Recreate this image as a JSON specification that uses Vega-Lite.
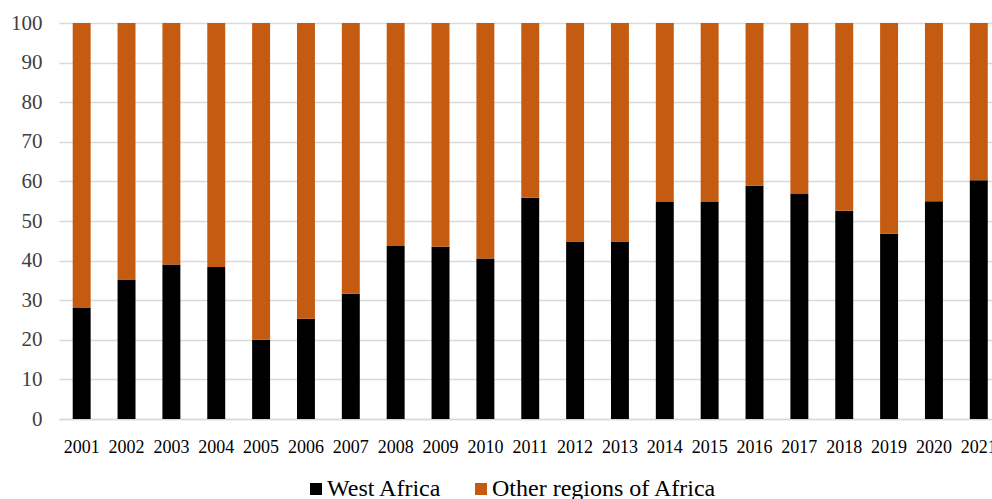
{
  "$schema": "https://vega.github.io/schema/vega-lite/v6.json",
  "autosize": {"type": "none"},
  "width": 933,
  "height": 396,
  "padding": {"left": 59, "top": 23, "right": 0, "bottom": 80},
  "background": "white",
  "config": {
    "view": {"stroke": null},
    "font": "Liberation Serif, Times New Roman, serif"
  },
  "data": {
    "values": [
      {"year": "2001", "region": "West Africa", "share": 28.0},
      {"year": "2002", "region": "West Africa", "share": 35.2},
      {"year": "2003", "region": "West Africa", "share": 39.0},
      {"year": "2004", "region": "West Africa", "share": 38.4},
      {"year": "2005", "region": "West Africa", "share": 20.0},
      {"year": "2006", "region": "West Africa", "share": 25.3},
      {"year": "2007", "region": "West Africa", "share": 31.6},
      {"year": "2008", "region": "West Africa", "share": 43.7},
      {"year": "2009", "region": "West Africa", "share": 43.5},
      {"year": "2010", "region": "West Africa", "share": 40.5},
      {"year": "2011", "region": "West Africa", "share": 55.9},
      {"year": "2012", "region": "West Africa", "share": 44.8},
      {"year": "2013", "region": "West Africa", "share": 44.8},
      {"year": "2014", "region": "West Africa", "share": 54.8},
      {"year": "2015", "region": "West Africa", "share": 54.8},
      {"year": "2016", "region": "West Africa", "share": 58.9},
      {"year": "2017", "region": "West Africa", "share": 56.8},
      {"year": "2018", "region": "West Africa", "share": 52.6},
      {"year": "2019", "region": "West Africa", "share": 46.8},
      {"year": "2020", "region": "West Africa", "share": 55.0},
      {"year": "2021", "region": "West Africa", "share": 60.3},
      {"year": "2001", "region": "Other regions of Africa", "share": 72.0},
      {"year": "2002", "region": "Other regions of Africa", "share": 64.8},
      {"year": "2003", "region": "Other regions of Africa", "share": 61.0},
      {"year": "2004", "region": "Other regions of Africa", "share": 61.6},
      {"year": "2005", "region": "Other regions of Africa", "share": 80.0},
      {"year": "2006", "region": "Other regions of Africa", "share": 74.7},
      {"year": "2007", "region": "Other regions of Africa", "share": 68.4},
      {"year": "2008", "region": "Other regions of Africa", "share": 56.3},
      {"year": "2009", "region": "Other regions of Africa", "share": 56.5},
      {"year": "2010", "region": "Other regions of Africa", "share": 59.5},
      {"year": "2011", "region": "Other regions of Africa", "share": 44.1},
      {"year": "2012", "region": "Other regions of Africa", "share": 55.2},
      {"year": "2013", "region": "Other regions of Africa", "share": 55.2},
      {"year": "2014", "region": "Other regions of Africa", "share": 45.2},
      {"year": "2015", "region": "Other regions of Africa", "share": 45.2},
      {"year": "2016", "region": "Other regions of Africa", "share": 41.1},
      {"year": "2017", "region": "Other regions of Africa", "share": 43.2},
      {"year": "2018", "region": "Other regions of Africa", "share": 47.4},
      {"year": "2019", "region": "Other regions of Africa", "share": 53.2},
      {"year": "2020", "region": "Other regions of Africa", "share": 45.0},
      {"year": "2021", "region": "Other regions of Africa", "share": 39.7}
    ]
  },
  "mark": {"type": "bar"},
  "encoding": {
    "x": {
      "field": "year",
      "type": "nominal",
      "scale": {"paddingInner": 0.6, "paddingOuter": 0.2, "align": 0.764, "round": false},
      "axis": {
        "title": null,
        "labelAngle": 0,
        "labelFont": "Liberation Serif",
        "labelFontSize": 18,
        "labelColor": "#000000",
        "labelPadding": 19,
        "ticks": false,
        "domain": true,
        "domainColor": "#d9d9d9",
        "domainWidth": 1.5,
        "grid": false,
        "labelOverlap": false,
        "labelBound": false
      }
    },
    "y": {
      "field": "share",
      "type": "quantitative",
      "stack": "zero",
      "scale": {"domain": [0, 100], "nice": false},
      "axis": {
        "title": null,
        "values": [0, 10, 20, 30, 40, 50, 60, 70, 80, 90, 100],
        "labelFont": "Liberation Serif",
        "labelFontSize": 21,
        "labelColor": "#404040",
        "labelPadding": 17,
        "ticks": false,
        "domain": false,
        "grid": true,
        "gridColor": "#d9d9d9",
        "gridWidth": 1.5
      }
    },
    "color": {
      "field": "region",
      "type": "nominal",
      "scale": {
        "domain": ["West Africa", "Other regions of Africa"],
        "range": ["#000000", "#C55A11"]
      },
      "legend": {
        "title": null,
        "orient": "none",
        "legendX": 245,
        "legendY": 454,
        "direction": "horizontal",
        "symbolType": "square",
        "symbolSize": 144,
        "symbolStrokeWidth": 0,
        "labelFont": "Liberation Serif",
        "labelFontSize": 24,
        "labelColor": "#000000",
        "labelOffset": -1,
        "labelLimit": 400,
        "columnPadding": 27
      }
    },
    "order": {"field": "region", "sort": "descending"}
  }
}
